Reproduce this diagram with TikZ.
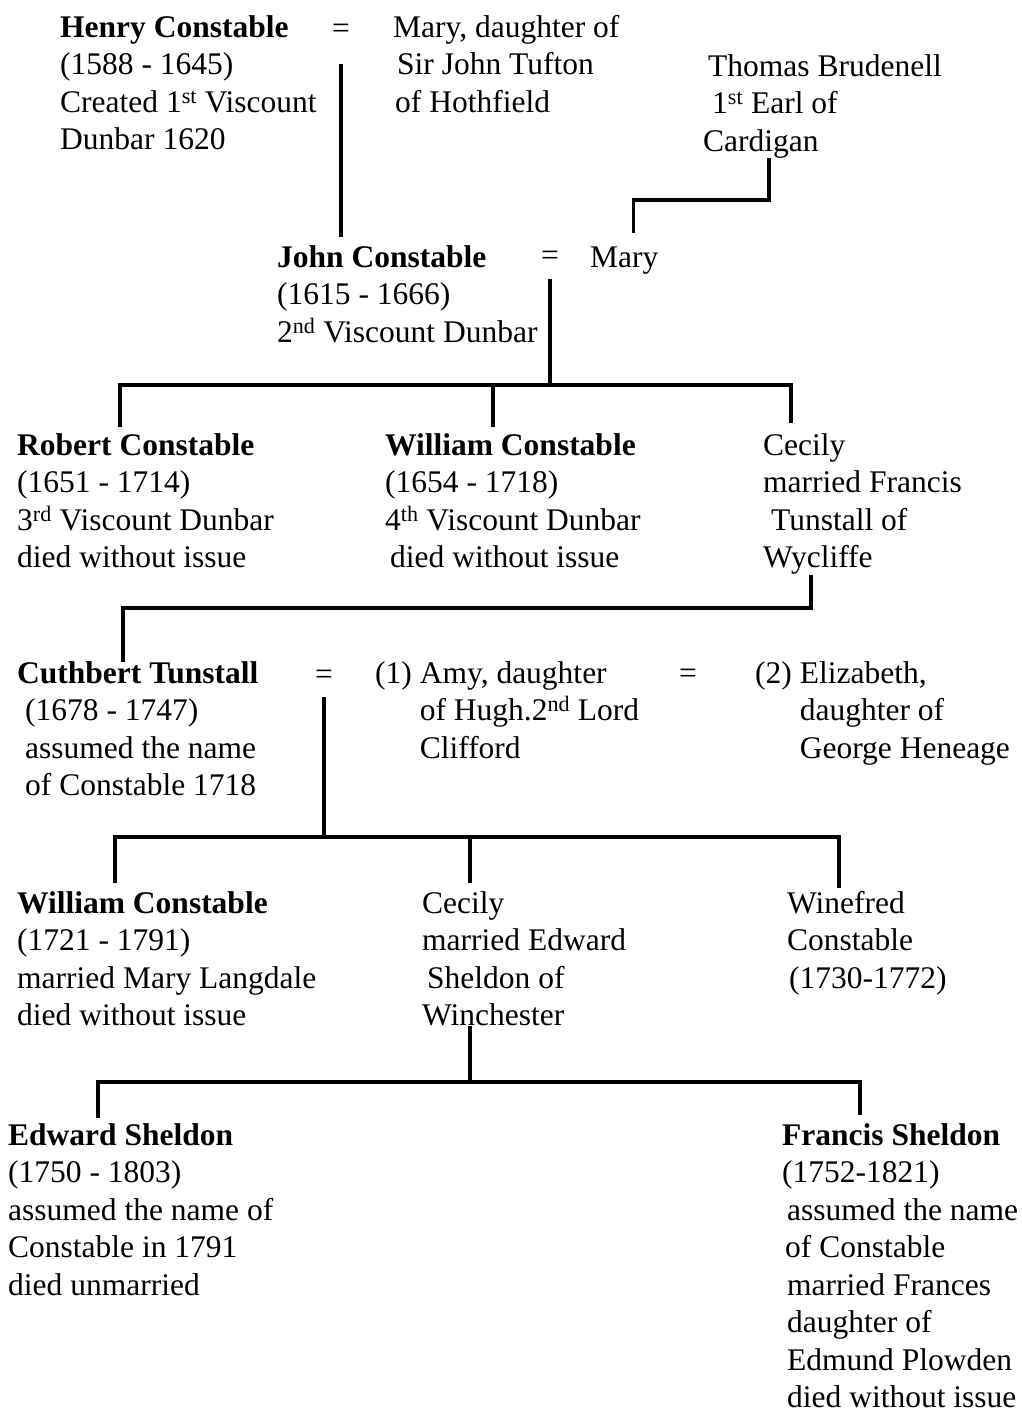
\documentclass[tikz,border=0pt]{standalone}
\usepackage{fontspec}
\setmainfont{Liberation Serif}
\newcommand{\topln}{\rule{0pt}{26pt}}
\begin{document}
\begin{tikzpicture}[x=1pt, y=-1pt,
        person/.style={anchor=north west, inner sep=0pt, align=left,
                       font=\fontsize{31.5}{37.5}\selectfont},
        eqsign/.style={inner sep=0pt, font=\fontsize{31.5}{37.5}\selectfont},
        tree/.style={line width=3.2pt}]
        \useasboundingbox (0,0) rectangle (1022,1413);

        % Premiere generation
        \node[person] (henry) at (60,11) {\topln\textbf{Henry Constable}\\(1588 - 1645)\\Created 1\textsuperscript{st} Viscount\\Dunbar 1620};
        \node[eqsign] (eq1) at (341,31) {=};
        \node[person] (tufton) at (393,11) {\topln Mary, daughter of\\\hspace*{4pt}Sir John Tufton\\\hspace*{2pt}of Hothfield};
        \node[person] (thomas) at (703,50) {\topln\hspace*{5pt}Thomas Brudenell\\\hspace*{9pt}1\textsuperscript{st} Earl of\\Cardigan};

        % Deuxieme generation
        \node[person] (john) at (277,241) {\topln\textbf{John Constable}\\(1615 - 1666)\\2\textsuperscript{nd} Viscount Dunbar};
        \node[eqsign] (eq2) at (550,258) {=};
        \node[person] (mary) at (590,241) {\topln Mary};

        % Troisieme generation
        \node[person] (robert) at (17,429) {\topln\textbf{Robert Constable}\\(1651 - 1714)\\3\textsuperscript{rd} Viscount Dunbar\\died without issue};
        \node[person] (william) at (385,429) {\topln\textbf{William Constable}\\(1654 - 1718)\\4\textsuperscript{th} Viscount Dunbar\\\hspace*{5pt}died without issue};
        \node[person] (cecily) at (763,429) {\topln Cecily\\married Francis\\\hspace*{8pt}Tunstall of\\Wycliffe};

        % Cuthbert et ses epouses
        \node[person] (cuthbert) at (17,657) {\topln\textbf{Cuthbert Tunstall}\\\hspace*{8pt}(1678 - 1747)\\\hspace*{8pt}assumed the name\\\hspace*{8pt}of Constable 1718};
        \node[eqsign] (eq3) at (324,677) {=};
        \node[person] (amy) at (375,657) {\topln(1) Amy, daughter\\\phantom{(1) }of Hugh.2\textsuperscript{nd} Lord\\\phantom{(1) }Clifford};
        \node[eqsign] (eq4) at (688,676) {=};
        \node[person] (elizabeth) at (755,657) {\topln(2) Elizabeth,\\\phantom{(2) }daughter of\\\phantom{(2) }George Heneage};

        % Enfants de Cuthbert
        \node[person] (william2) at (17,887) {\topln\textbf{William Constable}\\(1721 - 1791)\\married Mary Langdale\\died without issue};
        \node[person] (cecily2) at (422,887) {\topln Cecily\\married Edward\\\hspace*{5pt}Sheldon of\\Winchester};
        \node[person] (winefred) at (787,887) {\topln Winefred\\Constable\\\hspace*{2pt}(1730-1772)};

        % Enfants de Cecily
        \node[person] (edward) at (8,1119) {\topln\textbf{Edward Sheldon}\\(1750 - 1803)\\assumed the name of\\Constable in 1791\\died unmarried};
        \node[person] (francis) at (782,1119) {\topln\textbf{Francis Sheldon}\\(1752-1821)\\\hspace*{5pt}assumed the name\\\hspace*{3pt}of Constable\\\hspace*{5pt}married Frances\\\hspace*{5pt}daughter of\\\hspace*{5pt}Edmund Plowden\\\hspace*{5pt}died without issue};

        % Points de jonction
        \coordinate (tbm) at (769,200);
        \coordinate (kids1) at (550,385);
        \coordinate (d1) at (120,427);
        \coordinate (d2) at (493,427);
        \coordinate (d3) at (791,423);
        \coordinate (cc) at (811,608);
        \coordinate (ct) at (123,662);
        \coordinate (kids2) at (324,837);
        \coordinate (e1) at (115,883);
        \coordinate (e2) at (470,883);
        \coordinate (e3) at (839,888);
        \coordinate (kids3) at (470,1082);
        \coordinate (f1) at (98,1118);
        \coordinate (f2) at (860,1115);

        % Liens
        \draw[tree, shorten <=26pt, shorten >=4pt] (eq1) -- (eq1 |- john.north);
        \draw[tree, shorten >=8pt] (tbm |- thomas.south) -- (tbm) -| ([xshift=9pt]mary.north);
        \draw[tree, shorten <=14pt] (eq2) -- (eq2 |- kids1);
        \draw[tree] (d1) |- (d3 |- kids1) -- (d3);
        \draw[tree] (d2) -- (d2 |- kids1);
        \draw[tree] (cc |- cecily.south) -- (cc) -| (ct);
        \draw[tree, shorten <=13pt] (eq3) -- (eq3 |- kids2);
        \draw[tree] (e1) |- (e3 |- kids2) -- (e3);
        \draw[tree] (e2) -- (e2 |- kids2);
        \draw[tree] (kids3 |- cecily2.south) -- (kids3);
        \draw[tree] (f1) |- (f2 |- kids3) -- (f2);
    \end{tikzpicture}
\end{document}
